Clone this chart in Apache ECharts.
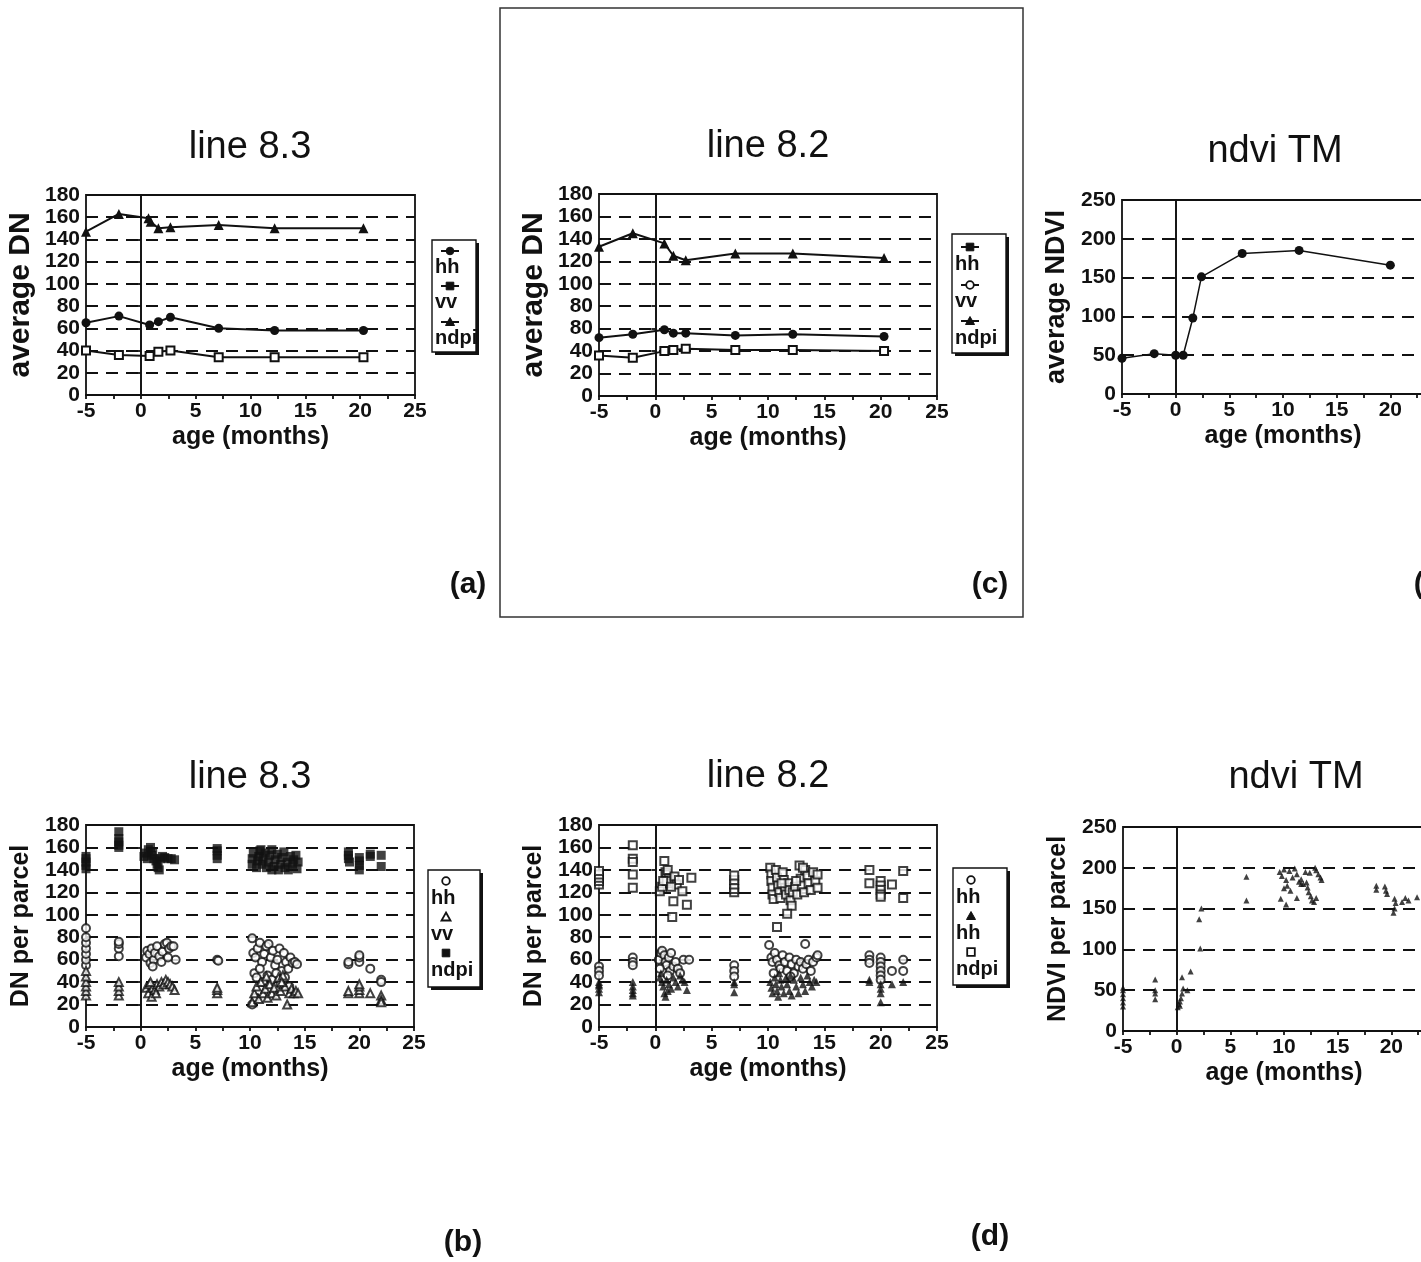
<!DOCTYPE html>
<html><head><meta charset="utf-8">
<script src="https://cdn.jsdelivr.net/npm/echarts@6/dist/echarts.min.js"></script>
<style>html,body{margin:0;padding:0;background:#fff;overflow:hidden}#c{width:1421px;height:1262px}</style>
</head><body><div id="c"></div>
<script>
// ---------- DATA ----------
const xTicks = [-5, 0, 5, 10, 15, 20, 25];
const yTicksDN = ['0','20','40','60','80','100','120','140','160','180'];
const yTicksDN82 = ['0','20','40','80','80','100','120','140','160','180'];
// (a) line 8.3 averages
const age83 = [-5, -2, 0.8, 1.6, 2.7, 7.1, 12.2, 20.3];
const hh83 = [65, 71, 63, 66, 70, 60, 58, 58];
const vv83 = [40, 36, 35, 39, 40, 34, 34, 34];
const ageNdpi83 = [-5, -2, 0.7, 0.9, 1.6, 2.7, 7.1, 12.2, 20.3];
const ndpi83 = [147, 163, 159, 156, 150, 151, 153, 150, 150];
// (c) line 8.2 averages
const age82 = [-5, -2, 0.8, 1.6, 2.7, 7.1, 12.2, 20.3];
const hh82 = [52, 55, 59, 56, 56, 54, 55, 53];
const vv82 = [36, 34, 40, 41, 42, 41, 41, 40];
const ndpi82 = [133, 145, 136, 125, 121, 127, 127, 123];
// ndvi TM averages
const ageNdvi = [-5, -2, 0, 0.7, 1.6, 2.4, 6.2, 11.5, 20];
const ndviAvg = [46, 52, 50, 50, 98, 151, 181, 185, 166];

// (b) line 8.3 per parcel
const hhP83 = [[-5,55],[-5,60],[-5,65],[-5,70],[-5,75],[-5,80],[-5,88],[-2,63],[-2,70],[-2,74],[-2,76],
 [0.5,62],[0.6,68],[0.8,65],[0.9,57],[1.0,70],[1.2,60],[1.3,66],[1.5,72],[1.7,63],[1.9,58],[2.0,67],[2.2,74],[2.4,75],[2.6,70],[2.8,72],[3.0,72],[3.2,60],[1.1,54],[2.5,62],
 [7,60],[7.1,59],
 [10.2,79],[10.3,66],[10.5,62],[10.7,70],[10.9,75],[11.1,58],[11.3,65],[11.5,72],[11.7,74],[11.9,62],[12.1,68],[12.3,55],[12.5,60],[12.7,70],[12.9,50],[13.1,66],[13.3,58],[13.5,52],[13.7,62],[13.9,57],[14.1,58],[14.3,56],[10.4,48],[10.6,44],[10.9,52],[11.2,40],[11.6,46],[12.0,42],[12.4,48],[12.8,38],[13.2,44],[13.6,36],[10.2,20],[10.5,26],
 [19,56],[19,58],[20,58],[20,62],[20,64],[21,52],[22,42],[22,40]];
const vvP83 = [[-5,28],[-5,32],[-5,36],[-5,40],[-5,45],[-5,50],[-2,28],[-2,32],[-2,36],[-2,40],
 [0.5,35],[0.7,30],[0.8,38],[1.0,27],[1.1,35],[1.3,33],[1.5,38],[1.7,36],[1.9,40],[2.1,38],[2.3,42],[2.5,40],[2.7,38],[2.9,36],[3.1,33],[0.9,40],[1.4,30],
 [7,30],[7,33],[7,35],
 [10.2,22],[10.4,30],[10.6,36],[10.8,25],[11.0,40],[11.2,30],[11.4,34],[11.6,26],[11.8,38],[12.0,30],[12.2,35],[12.4,28],[12.6,44],[12.8,32],[13.0,46],[13.2,36],[13.4,20],[13.6,30],[13.8,34],[14.0,30],[14.2,32],[14.4,30],[12.9,40],[11.5,45],
 [19,30],[19,32],[20,30],[20,33],[20,36],[20,38],[21,30],[22,28],[22,24],[22,22]];
const ndpiP83 = [[-5,141],[-5,144],[-5,147],[-5,150],[-5,152],[-2,160],[-2,162],[-2,165],[-2,168],[-2,174],
 [0.3,152],[0.5,155],[0.7,158],[0.9,160],[1.0,153],[1.2,150],[1.4,148],[1.5,145],[1.6,142],[1.7,140],[1.8,150],[2.0,152],[2.2,151],[2.5,150],[2.8,150],[3.1,149],[0.6,150],[1.1,156],
 [7,150],[7,153],[7,157],[7,159],
 [10.2,145],[10.2,150],[10.3,155],[10.6,142],[10.7,148],[10.8,152],[10.9,157],[11.1,145],[11.2,150],[11.4,155],[11.5,142],[11.7,147],[11.8,153],[12.0,158],[12.2,143],[12.3,149],[12.5,154],[12.6,140],[12.8,145],[12.9,151],[13.1,156],[13.2,142],[13.4,147],[13.5,140],[13.7,152],[13.9,145],[14.0,149],[14.2,153],[14.3,141],[14.4,147],[11.0,158],[12.0,140],
 [19,150],[19,153],[19,156],[19.1,147],[20,140],[20,144],[20,148],[20,151],[21,152],[21,154],[22,153],[22,143]];
// (d) line 8.2 per parcel
const hhP82 = [[-5,54],[-5,50],[-5,46],[-2,62],[-2,58],[-2,55],
 [0.3,60],[0.5,66],[0.6,68],[0.8,64],[0.9,58],[1.0,55],[1.2,62],[1.3,50],[1.4,66],[1.6,54],[1.8,58],[2.0,52],[2.2,48],[2.5,60],[3.0,60],[0.4,52],[1.1,46],
 [7,55],[7,50],[7,45],
 [10.1,73],[10.3,62],[10.4,58],[10.6,66],[10.8,60],[11.0,55],[11.1,52],[11.3,64],[11.5,58],[11.7,50],[11.9,62],[12.1,56],[12.3,48],[12.5,60],[12.7,54],[12.9,58],[13.1,52],[13.3,74],[13.4,56],[13.6,60],[13.8,50],[14.0,58],[14.3,62],[14.4,64],[10.5,48],[12.0,45],
 [19,64],[19,60],[19,57],[20,62],[20,58],[20,54],[20,50],[20,46],[20,42],[21,50],[22,60],[22,50]];
const triP82 = [[-5,40],[-5,37],[-5,34],[-5,31],[-5,38],[-2,40],[-2,36],[-2,33],[-2,30],[-2,28],
 [0.4,44],[0.6,40],[0.7,36],[0.8,30],[0.9,27],[1.0,42],[1.2,38],[1.4,34],[1.6,44],[1.8,40],[2.0,36],[2.2,46],[2.4,42],[2.6,40],[2.8,33],[1.1,32],[0.5,48],
 [7,40],[7,38],[7,31],
 [10.2,40],[10.3,35],[10.4,30],[10.6,44],[10.7,38],[10.8,32],[10.9,27],[11.1,42],[11.2,36],[11.4,30],[11.6,44],[11.7,38],[11.9,32],[12.1,28],[12.3,42],[12.5,36],[12.7,30],[12.9,44],[13.1,38],[13.3,32],[13.5,46],[13.7,40],[13.9,36],[14.1,42],[14.3,40],[12.0,46],[11.0,48],
 [19,42],[19,40],[20,38],[20,34],[20,30],[20,22],[21,38],[22,40]];
const ndpiP82 = [[-5,127],[-5,130],[-5,133],[-5,136],[-5,139],[-2,162],[-2,150],[-2,147],[-2,136],[-2,124],
 [0.4,121],[0.6,125],[0.8,148],[0.9,138],[1.0,136],[1.1,140],[1.2,132],[1.3,128],[1.0,130],[1.5,98],[1.6,112],[1.7,134],[1.9,127],[2.1,131],[2.4,121],[2.8,109],[3.2,133],[0.7,130],[1.4,125],
 [7,120],[7,123],[7,127],[7,131],[7,135],
 [10.2,142],[10.3,136],[10.3,130],[10.4,124],[10.4,118],[10.5,114],[10.7,140],[10.8,133],[10.9,126],[11.0,120],[11.1,115],[11.3,138],[11.4,131],[11.5,124],[11.6,118],[11.8,128],[11.9,122],[12.0,113],[12.1,108],[11.7,101],[10.8,89],[12.2,120],[12.4,125],[12.6,118],[12.8,144],[12.9,132],[13.0,126],[13.2,120],[13.3,140],[13.5,135],[13.6,128],[13.8,122],[14.0,138],[14.2,130],[14.4,124],[14.4,136],[13.1,142],[12.5,130],[11.2,128],
 [19,140],[19,128],[20,130],[20,126],[20,122],[20,118],[20,116],[21,127],[22,139],[22,115]];
// ndvi TM per parcel
const ndviP = [[-5,30],[-5,35],[-5,40],[-5,45],[-5,50],[-5,53],[-2,63],[-2,50],[-2,46],[-2,39],
 [0.1,29],[0.2,33],[0.3,36],[0.4,40],[0.5,46],[0.6,52],[0.5,66],[1.3,73],[1.0,50],[0.3,31],
 [2.3,150],[2.1,137],[2.2,101],[6.5,189],[6.5,160],
 [9.6,195],[9.8,190],[10.0,198],[10.2,185],[10.0,175],[10.3,178],[10.5,196],[10.6,172],[10.8,188],[11.0,199],[11.2,192],[11.4,183],[11.6,186],[11.8,180],[12.0,195],[12.2,176],[12.3,170],[12.5,165],[12.6,160],[12.8,158],[13.0,197],[13.2,192],[13.4,188],[13.5,185],[12.9,200],[11.2,163],[10.2,155],[9.7,162],[13.0,163],[11.6,180],[12.1,182],[12.4,194],
 [18.6,178],[18.6,173],[19.4,177],[19.5,172],[19.6,168],[20.3,162],[20.4,157],[20.3,150],[20.2,145],[21.3,163],[21.6,160],[22.4,164],[21.0,158]];

// ---------- HELPERS ----------
const zip = (xs, ys) => xs.map((x, i) => [x, ys[i]]);
const FF = '"Liberation Sans", Arial, sans-serif';
const BLK = '#111';
const tickFont = {fontFamily: FF, fontWeight: 'bold', fontSize: 21, color: BLK};
const xNameFont = {fontFamily: FF, fontWeight: 'bold', fontSize: 25, color: BLK};
const yNameFont = size => ({fontFamily: FF, fontWeight: 'bold', fontSize: size, color: BLK});

const grids = [
  {left: 86, top: 195, width: 329, height: 200},   // a
  {left: 599, top: 194, width: 338, height: 202},  // c
  {left: 1122, top: 200, width: 322, height: 194}, // ndvi avg
  {left: 86, top: 825, width: 328, height: 202},   // b
  {left: 599, top: 825, width: 338, height: 202},  // d
  {left: 1123, top: 827, width: 322, height: 204}  // ndvi parcel
].map(g => Object.assign({show: true, borderColor: BLK, borderWidth: 1.8, containLabel: false, outerBoundsMode: 'none'}, g));

function xAx(gi) {
  return {
    gridIndex: gi, type: 'value', min: -5, max: 25, interval: 5,
    name: 'age (months)', nameLocation: 'middle', nameGap: 30, nameTextStyle: xNameFont,
    axisLine: {onZero: false, lineStyle: {color: BLK, width: 1.8}},
    axisTick: {show: true, length: 4, lineStyle: {color: BLK, width: 1.8}},
    minorTick: {show: true, splitNumber: 2, length: 4, lineStyle: {color: BLK, width: 1.8}},
    axisLabel: Object.assign({margin: 6, formatter: v => String(xTicks[xTicks.indexOf(v)])}, tickFont),
    splitLine: {show: false}
  };
}
function yAx(gi, max, interval, name, nameSize, nameGap, labels) {
  return {
    gridIndex: gi, type: 'value', min: 0, max: max, interval: interval,
    name: name, nameLocation: 'middle', nameGap: nameGap, nameTextStyle: yNameFont(nameSize),
    axisLine: {show: true, lineStyle: {color: BLK, width: 1.8}},
    axisTick: {show: true, length: 4, lineStyle: {color: BLK, width: 1.8}},
    axisLabel: Object.assign({margin: 6, formatter: v => labels ? labels[Math.round(v / interval)] : String(v)}, tickFont),
    splitLine: {show: true, lineStyle: {color: BLK, width: 1.8, type: [12, 8]}}
  };
}
const zeroLine = {
  silent: true, symbol: ['none', 'none'], label: {show: false},
  lineStyle: {color: BLK, type: 'solid', width: 1.5}, data: [{xAxis: 0}], animation: false
};
const filled = {color: BLK};
const open = {color: '#fff', borderColor: BLK, borderWidth: 2};
function lineS(gi, data, symbol, size, style, withZero) {
  const s = {type: 'line', xAxisIndex: gi, yAxisIndex: gi, data: data, symbol: symbol, symbolSize: size,
    showAllSymbol: true, lineStyle: {color: BLK, width: 2}, itemStyle: style, z: 3};
  if (withZero) s.markLine = zeroLine;
  return s;
}
function scatS(gi, data, symbol, size, style, withZero) {
  const s = {type: 'scatter', xAxisIndex: gi, yAxisIndex: gi, data: data, symbol: symbol, symbolSize: size, itemStyle: style, z: 3};
  if (withZero) s.markLine = zeroLine;
  return s;
}

// ---------- LEGENDS (graphic) ----------
function marker(kind, fill, cx, cy) {
  const st = fill ? {fill: BLK, stroke: BLK, lineWidth: 1} : {fill: '#fff', stroke: BLK, lineWidth: 1.8};
  if (kind === 'circle') return {type: 'circle', shape: {cx, cy, r: 3.8}, style: st, z: 20};
  if (kind === 'rect') return {type: 'rect', shape: {x: cx - 3.8, y: cy - 3.8, width: 7.6, height: 7.6}, style: st, z: 20};
  return {type: 'polygon', shape: {points: [[cx, cy - 4.5], [cx + 4.5, cy + 3.5], [cx - 4.5, cy + 3.5]]}, style: st, z: 20};
}
function legendBox(x, y, w, h, items, withLine) {
  const els = [
    {type: 'rect', shape: {x: x + 3, y: y + 3, width: w, height: h}, style: {fill: BLK}, z: 18},
    {type: 'rect', shape: {x, y, width: w, height: h}, style: {fill: '#fff', stroke: BLK, lineWidth: 1.4}, z: 19}
  ];
  items.forEach(it => {
    if (withLine) els.push({type: 'line', shape: {x1: x + 9, y1: it.my, x2: x + 27, y2: it.my}, style: {stroke: BLK, lineWidth: 2}, z: 20});
    els.push(marker(it.sym, it.fill, x + 18, it.my));
    els.push({type: 'text', left: x + 3, top: it.ty - 11, style: {text: it.label, font: 'bold 20px ' + FF, fill: BLK}, z: 20});
  });
  return els;
}
const legA = legendBox(432, 240, 44, 112, [
  {label: 'hh', sym: 'circle', fill: true, my: 251, ty: 268},
  {label: 'vv', sym: 'rect', fill: true, my: 286, ty: 303},
  {label: 'ndpi', sym: 'triangle', fill: true, my: 322, ty: 339}], true);
const legC = legendBox(952, 234, 54, 119, [
  {label: 'hh', sym: 'rect', fill: true, my: 247, ty: 265},
  {label: 'vv', sym: 'circle', fill: false, my: 285, ty: 302},
  {label: 'ndpi', sym: 'triangle', fill: true, my: 321, ty: 339}], true);
const legB = legendBox(428, 870, 52, 117, [
  {label: 'hh', sym: 'circle', fill: false, my: 881, ty: 899},
  {label: 'vv', sym: 'triangle', fill: false, my: 917, ty: 935},
  {label: 'ndpi', sym: 'rect', fill: true, my: 953, ty: 971}], false);
const legD = legendBox(953, 868, 54, 117, [
  {label: 'hh', sym: 'circle', fill: false, my: 880, ty: 898},
  {label: 'hh', sym: 'triangle', fill: true, my: 916, ty: 934},
  {label: 'ndpi', sym: 'rect', fill: false, my: 952, ty: 970}], false);

const panelLetters = [['(a)', 468, 585], ['(c)', 990, 585], ['(e)', 1432, 585], ['(b)', 463, 1243], ['(d)', 990, 1237]]
  .map(p => ({type: 'text', x: p[1], y: p[2], style: {text: p[0], font: 'bold 30px ' + FF, fill: BLK, textAlign: 'center', textVerticalAlign: 'middle'}, z: 20}));
const frameC = {type: 'rect', shape: {x: 500, y: 8, width: 523, height: 609}, style: {fill: 'none', stroke: '#333', lineWidth: 1.5}, z: 1};

const titleFont = {fontFamily: FF, fontWeight: 'normal', fontSize: 38, color: BLK};
const titles = [['line 8.3', 245, 143], ['line 8.2', 763, 142], ['ndvi TM', 1270, 147],
  ['line 8.3', 245, 773], ['line 8.2', 763, 772], ['ndvi TM', 1291, 773]]
  .map(t => ({text: t[0], left: t[1], top: t[2], textAlign: 'center', textVerticalAlign: 'middle', textStyle: titleFont}));

const option = {
  animation: false,
  backgroundColor: '#fff',
  title: titles,
  grid: grids,
  xAxis: [0, 1, 2, 3, 4, 5].map(xAx),
  yAxis: [
    yAx(0, 180, 20, 'average DN', 30, 50, yTicksDN),
    yAx(1, 180, 20, 'average DN', 30, 50, yTicksDN82),
    yAx(2, 250, 50, 'average NDVI', 27, 52),
    yAx(3, 180, 20, 'DN per parcel', 25, 52, yTicksDN),
    yAx(4, 180, 20, 'DN per parcel', 25, 52, yTicksDN),
    yAx(5, 250, 50, 'NDVI per parcel', 25, 52)
  ],
  series: [
    lineS(0, zip(age83, hh83), 'circle', 9, filled, true),
    lineS(0, zip(age83, vv83), 'rect', 8, open),
    lineS(0, zip(ageNdpi83, ndpi83), 'triangle', 10, filled),
    lineS(1, zip(age82, hh82), 'circle', 9, filled, true),
    lineS(1, zip(age82, vv82), 'rect', 8, open),
    lineS(1, zip(age82, ndpi82), 'triangle', 10, filled),
    Object.assign(lineS(2, zip(ageNdvi, ndviAvg), 'circle', 9, filled, true), {lineStyle: {color: BLK, width: 1.5}}),
    scatS(3, hhP83, 'circle', 8, open, true),
    scatS(3, vvP83, 'triangle', 8, open),
    scatS(3, ndpiP83, 'rect', 9, filled),
    scatS(4, ndpiP82, 'rect', 8, open, true),
    scatS(4, hhP82, 'circle', 8, open),
    scatS(4, triP82, 'triangle', 8, filled),
    scatS(5, ndviP, 'triangle', 6, filled, true)
  ],
  graphic: [frameC].concat(legA, legC, legB, legD, panelLetters)
};
const chart = echarts.init(document.getElementById('c'), null, {renderer: 'canvas'});
chart.setOption(option);
</script></body></html>
